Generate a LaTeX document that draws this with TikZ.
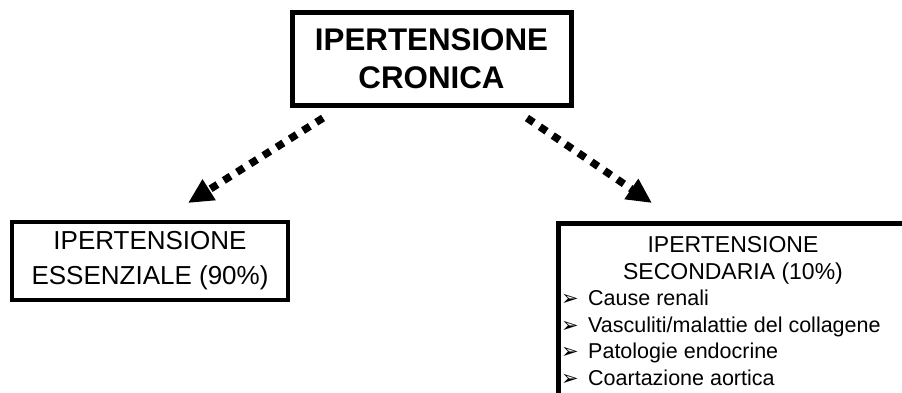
\documentclass[tikz,border=0pt]{standalone}
\usepackage{fontspec}
\setmainfont{Liberation Sans}
\newfontfamily\dingfont{DejaVu Sans}
\usetikzlibrary{arrows.meta}

\begin{document}
\begin{tikzpicture}[x=1pt,y=-1pt,
  boxstyle/.style={draw=black, rectangle, inner sep=0pt},
  linetext/.style={inner sep=0pt, anchor=base west, font=\fontsize{21.5}{26}\selectfont},
  dotarrow/.style={line width=7.5pt, dash pattern=on 8pt off 7.6pt,
    -{Triangle[length=25pt,width=23pt]}}
]
\useasboundingbox (0,0) rectangle (902,392);
\fill[white] (0,0) rectangle (902,392);

% root box
\node[boxstyle, line width=5pt, minimum width=279pt, minimum height=93pt,
      align=center, font=\fontsize{31.3}{38}\selectfont\bfseries]
  (root) at (431.5,58.5) {IPERTENSIONE\\CRONICA};

% essential hypertension
\node[boxstyle, line width=4pt, minimum width=276pt, minimum height=78pt,
      align=center, font=\fontsize{26}{35}\selectfont]
  (ess) at (150,261) {IPERTENSIONE\\ESSENZIALE (90\%)};

% secondary hypertension (runs past the page edge)
\begin{scope}
  \clip (0,0) rectangle (902,392);
  \node[boxstyle, line width=5pt, minimum width=400pt, minimum height=200pt,
        anchor=north west] (sec) at (555.5,220.5) {};
\end{scope}
\node[inner sep=0pt, anchor=base, font=\fontsize{23}{27}\selectfont] (sech1) at (733,252) {IPERTENSIONE};
\node[inner sep=0pt, anchor=base, font=\fontsize{23}{27}\selectfont] (sech2) at (733,279) {SECONDARIA (10\%)};
\foreach \t [count=\i] in {Cause renali, Vasculiti/malattie del collagene, Patologie endocrine, Coartazione aortica}{
  \node[inner sep=0pt, anchor=base west, font=\dingfont\fontsize{21}{24}\selectfont]
    (b\i) at (561,305.5+26.7*\i-26.7) {➢};
  \node[linetext] (i\i) at (588,305.5+26.7*\i-26.7) {\t};
}

% connectors
\coordinate (rootL) at (323,118);
\coordinate (rootR) at (527,118);
\coordinate (essT) at (188,203);
\coordinate (secT) at (652,203);
\draw[dotarrow] (rootL) -- (essT);
\draw[dotarrow] (rootR) -- (secT);
\end{tikzpicture}
\end{document}
